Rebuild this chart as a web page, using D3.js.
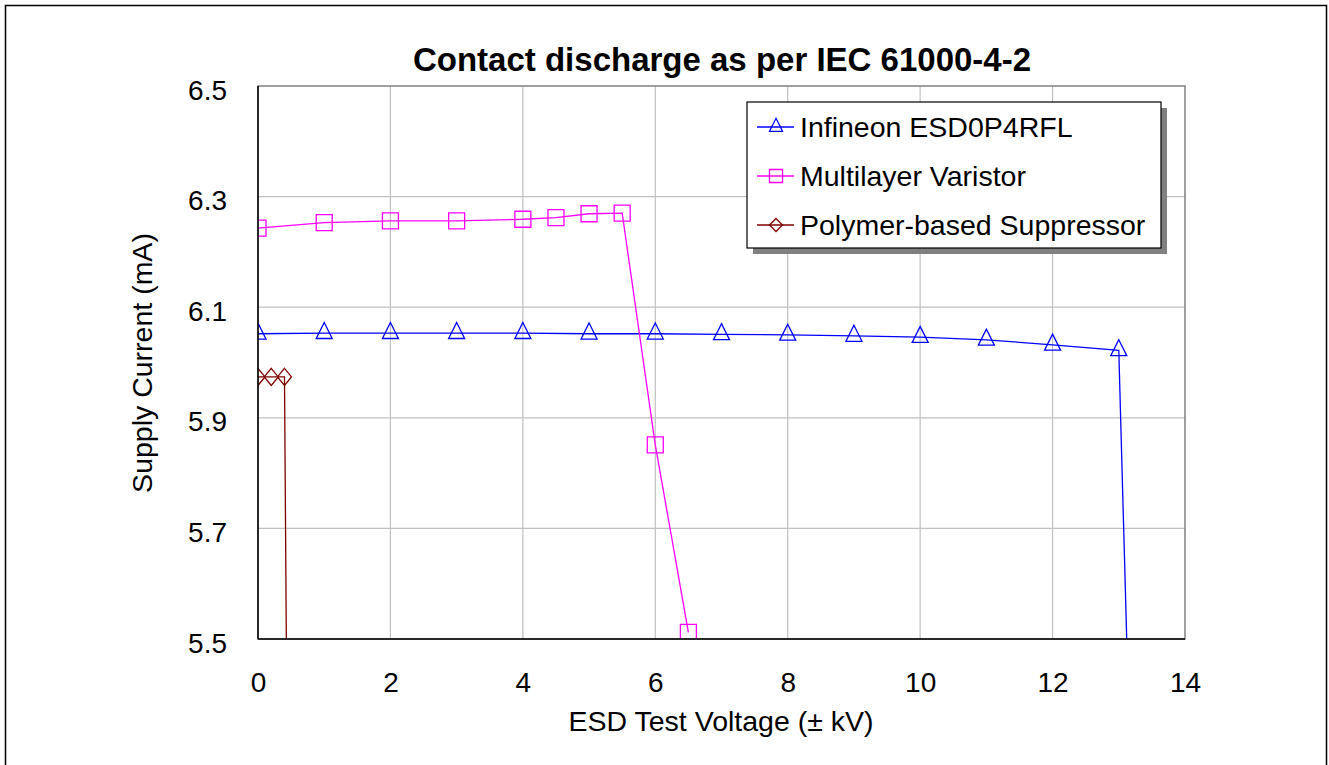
<!DOCTYPE html>
<html>
<head>
<meta charset="utf-8">
<script src="https://cdn.jsdelivr.net/npm/d3@7"></script>
<style>
  html, body { margin: 0; padding: 0; background: #fff; }
  svg { display: block; font-family: "Liberation Sans", Arial, sans-serif; }
</style>
</head>
<body>
<svg id="chart" width="1329" height="765"></svg>
<script>
// ---- data ----
const chartTitle = "Contact discharge as per IEC 61000-4-2";
const xTitle = "ESD Test Voltage (\u00B1 kV)";
const yTitle = "Supply Current (mA)";
const xTickValues = [0, 2, 4, 6, 8, 10, 12, 14];
const yTickValues = [5.5, 5.7, 5.9, 6.1, 6.3, 6.5];
const seriesNames = ["Infineon ESD0P4RFL", "Multilayer Varistor", "Polymer-based Suppressor"];

const infineonX = [0, 1, 2, 3, 4, 5, 6, 7, 8, 9, 10, 11, 12, 13, 13.2];
const infineonY = [6.052, 6.053, 6.053, 6.053, 6.053, 6.052, 6.052, 6.051, 6.050, 6.048, 6.046, 6.041, 6.032, 6.022, 5.15];

const varistorX = [0, 1, 2, 3, 4, 4.5, 5, 5.5, 6, 6.5];
const varistorY = [6.243, 6.253, 6.256, 6.256, 6.259, 6.262, 6.269, 6.270, 5.851, 5.512];

const polymerX = [0, 0.2, 0.4, 0.45];
const polymerY = [5.974, 5.974, 5.974, 5.12];

// ---- layout ----
const W = 1329, H = 765;
const plot = { left: 258, top: 86, right: 1185, bottom: 639 };
const svg = d3.select("#chart");

const x = d3.scaleLinear().domain([0, 14]).range([plot.left, plot.right]);
const y = d3.scaleLinear().domain([5.5, 6.5]).range([plot.bottom, plot.top]);

// outer border
svg.append("rect").attr("x", 5.5).attr("y", 5.5).attr("width", 1321).attr("height", 820)
  .attr("fill", "#fff").attr("stroke", "#000").attr("stroke-width", 1.5);

// grid
const grid = svg.append("g");
grid.selectAll("line.v").data(xTickValues.slice(1, -1)).join("line")
  .attr("x1", d => x(d)).attr("x2", d => x(d))
  .attr("y1", plot.top).attr("y2", plot.bottom)
  .attr("stroke", "#c0c0c0").attr("stroke-width", 1.2);
grid.selectAll("line.h").data(yTickValues.slice(1, -1)).join("line")
  .attr("x1", plot.left).attr("x2", plot.right)
  .attr("y1", d => y(d)).attr("y2", d => y(d))
  .attr("stroke", "#c0c0c0").attr("stroke-width", 1.2);

// plot border
svg.append("rect").attr("x", plot.left).attr("y", plot.top)
  .attr("width", plot.right - plot.left).attr("height", plot.bottom - plot.top)
  .attr("fill", "none").attr("stroke", "#808080").attr("stroke-width", 1.5);

// clip
svg.append("defs").append("clipPath").attr("id", "clip")
  .append("rect").attr("x", plot.left).attr("y", plot.top)
  .attr("width", plot.right - plot.left).attr("height", plot.bottom - plot.top);

// marker shapes
function triPath(s) { const h = s; const w = s; return `M0,${-2*h/3}L${w/2},${h/3}L${-w/2},${h/3}Z`; }
function sqPath(s) { const r = s / 2; return `M${-r},${-r}H${r}V${r}H${-r}Z`; }
function diaPath(w, h) { return `M0,${-h/2}L${w/2},0L0,${h/2}L${-w/2},0Z`; }

const series = [
  { name: seriesNames[0], xs: infineonX, ys: infineonY, color: "#0000ff", shape: triPath(16) },
  { name: seriesNames[1], xs: varistorX, ys: varistorY, color: "#ff00ff", shape: sqPath(16) },
  { name: seriesNames[2], xs: polymerX, ys: polymerY, color: "#800000", shape: diaPath(14, 17) }
];

const line = d3.line().x(d => x(d[0])).y(d => y(d[1]));
const dataG = svg.append("g").attr("clip-path", "url(#clip)");
series.forEach(s => {
  const pts = s.xs.map((v, i) => [v, s.ys[i]]);
  dataG.append("path").datum(pts).attr("d", line)
    .attr("fill", "none").attr("stroke", s.color).attr("stroke-width", 1.3);
  dataG.selectAll(null).data(pts).join("path")
    .attr("transform", d => `translate(${x(d[0])},${y(d[1])})`)
    .attr("d", s.shape).attr("fill", "none")
    .attr("stroke", s.color).attr("stroke-width", 1.3);
});

// axis lines
svg.append("line").attr("x1", plot.left).attr("x2", plot.left).attr("y1", plot.top).attr("y2", plot.bottom)
  .attr("stroke", "#000").attr("stroke-width", 1.5);
svg.append("line").attr("x1", plot.left).attr("x2", plot.right).attr("y1", plot.bottom).attr("y2", plot.bottom)
  .attr("stroke", "#000").attr("stroke-width", 1.5);

// axes
const xAxis = svg.append("g").attr("transform", `translate(0,${plot.bottom})`)
  .call(d3.axisBottom(x).tickValues(xTickValues).tickSize(0).tickPadding(33).tickFormat(d3.format("d")));
const yAxis = svg.append("g").attr("transform", `translate(${plot.left},0)`)
  .call(d3.axisLeft(y).tickValues(yTickValues).tickSize(0).tickPadding(31).tickFormat(d3.format(".1f")));
[xAxis, yAxis].forEach(a => {
  a.select(".domain").remove();
  a.selectAll("text").attr("font-size", 28).attr("fill", "#000")
    .attr("font-family", "'Liberation Sans', Arial, sans-serif");
});
yAxis.selectAll("text").attr("dy", "13px");

// titles
svg.append("text").attr("x", 722).attr("y", 71).attr("text-anchor", "middle")
  .attr("font-size", 33).attr("font-weight", "bold").text(chartTitle);
svg.append("text").attr("x", 721).attr("y", 731).attr("text-anchor", "middle")
  .attr("font-size", 28.5).text(xTitle);
svg.append("text").attr("transform", "translate(152,363) rotate(-90)").attr("text-anchor", "middle")
  .attr("font-size", 28.5).text(yTitle);

// legend
const lg = { x: 747, y: 102, w: 414, h: 146 };
svg.append("rect").attr("x", lg.x + 6).attr("y", lg.y + 6).attr("width", lg.w).attr("height", lg.h).attr("fill", "#808080");
svg.append("rect").attr("x", lg.x).attr("y", lg.y).attr("width", lg.w).attr("height", lg.h)
  .attr("fill", "#fff").attr("stroke", "#000").attr("stroke-width", 1.2);
const rowY = [127, 176, 225];
series.forEach((s, i) => {
  const g = svg.append("g");
  g.append("line").attr("x1", 757).attr("x2", 794).attr("y1", rowY[i]).attr("y2", rowY[i])
    .attr("stroke", s.color).attr("stroke-width", 1.3);
  g.append("path").attr("transform", `translate(776,${rowY[i]})`).attr("d", i === 0 ? triPath(13) : i === 1 ? sqPath(13) : diaPath(13, 13))
    .attr("fill", "none").attr("stroke", s.color).attr("stroke-width", 1.3);
  g.append("text").attr("x", 800).attr("y", rowY[i] + 10).attr("font-size", 28.5).text(s.name);
});
</script>
</body>
</html>
